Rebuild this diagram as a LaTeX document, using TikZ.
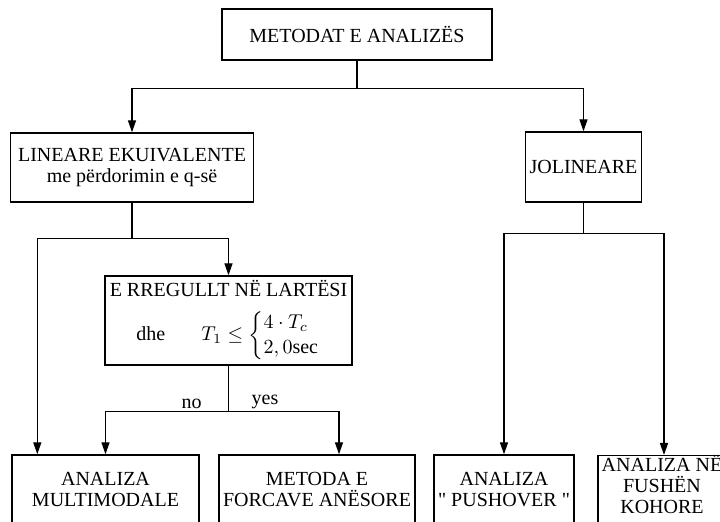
\documentclass[tikz,border=0pt]{standalone}
\usepackage{amsmath}
\usepackage{fontspec}
\setmainfont{Liberation Serif}
\usetikzlibrary{arrows.meta, positioning}
\tikzset{
    % Node styles
    methodbox/.style={
        rectangle,
        draw=black,
        line width=0.7pt,
        fill=white,
        align=center,
        inner sep=2pt,
        font=\fontsize{10}{10.5}\selectfont
    },
    % Arrow styles
    myarrow/.style={
        -{Triangle[length=6pt,width=4pt]},
        line width=0.7pt,
        black
    }
}

\begin{document}
\begin{tikzpicture}[x=0.5pt, y=-0.5pt,
            leafbox/.style={methodbox, minimum width=#1, minimum height=35pt},
            branchlabel/.style={above, inner sep=1pt, font=\fontsize{10}{10.5}\selectfont}
        ]
            \useasboundingbox (0,0) rectangle (720,522);

            \node[methodbox, minimum width=135pt, minimum height=25.5pt] (methods) at (357,34.5) {METODAT E ANALIZËS};

            \node[methodbox, minimum width=121.5pt, minimum height=34.5pt] (linear) at (132,167.5) {LINEARE EKUIVALENTE\\ me përdorimin e q-së};
            \node[methodbox, minimum width=56.5pt, minimum height=35pt] (nonlinear) at (583.5,167) {JOLINEARE};

            \node[methodbox, minimum width=123.5pt, minimum height=44.5pt, inner ysep=1pt] (regular) at (228.5,320.5) {E RREGULLT NË LARTËSI\\[6pt] \hspace{1em}dhe\hspace{1.8em}$T_1\leq\begin{cases}4\cdot T_c\\ 2,0\mathrm{sec}\end{cases}$};

            \node[leafbox=93.5pt] (multimodal) at (105.5,490) {ANALIZA\\ MULTIMODALE};
            \node[leafbox=93pt] (lateral) at (317,490) {METODA E\\ FORCAVE ANËSORE};
            \node[leafbox=67pt] (pushover) at (504,490) {ANALIZA\\ \textquotedbl\ PUSHOVER \textquotedbl};
            \node[leafbox=64pt, inner xsep=0pt, inner ysep=0pt, text depth=13pt, anchor=north] (timehistory) at (662,455) {ANALIZA NË\\ FUSHËN\\ KOHORE};

            \draw[myarrow] (methods.south) -- ++(0,28) -| (linear.north);
            \draw[myarrow] (methods.south) -- ++(0,28) -| (nonlinear.north);
            \draw[myarrow] (linear.south) -- ++(0,36) -| ([xshift=13pt]multimodal.north west);
            \draw[myarrow] (linear.south) -- ++(0,36) -| (regular.north);
            \draw[myarrow] (regular.south) -- ++(0,46) -| node[branchlabel, pos=0.15]{no} (multimodal.north);
            \draw[myarrow] (regular.south) -- ++(0,46) -| node[branchlabel, pos=0.165]{yes} ([xshift=11pt]lateral.north);
            \draw[myarrow] (nonlinear.south) -- ++(0,31) -| (pushover.north);
            \draw[myarrow] (nonlinear.south) -- ++(0,31) -| ([xshift=1pt]timehistory.north);
        \end{tikzpicture}
\end{document}
